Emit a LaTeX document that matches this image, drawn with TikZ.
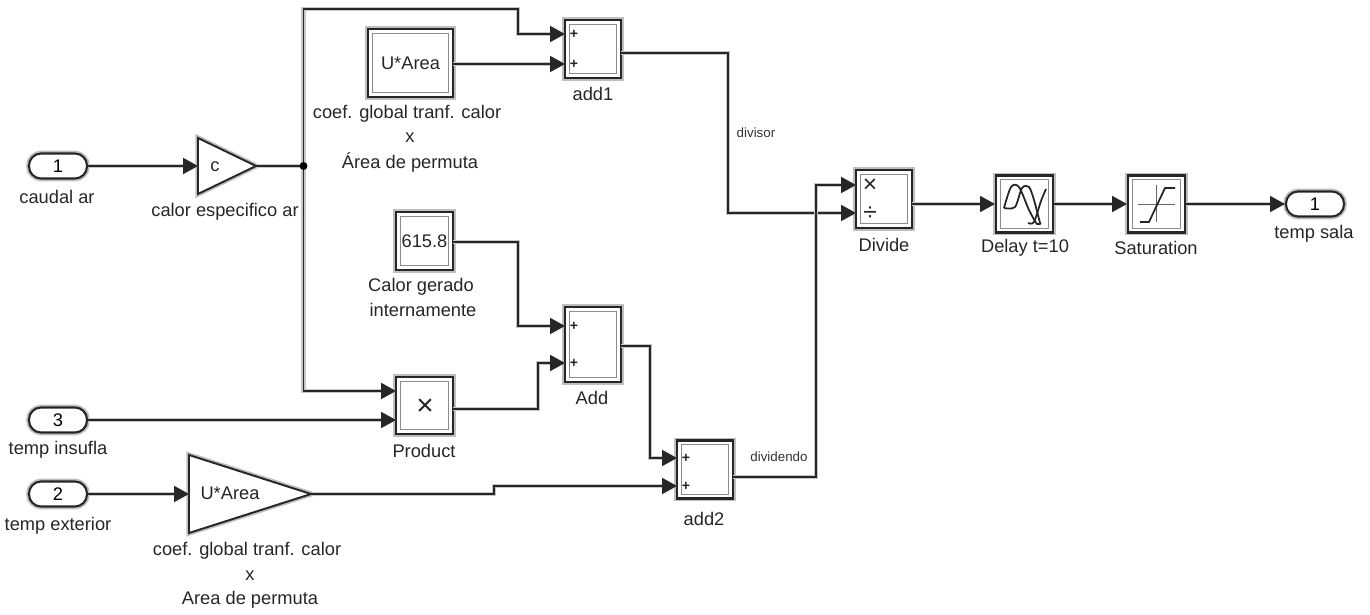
\documentclass[tikz,border=0pt]{standalone}
\usepackage{fontspec}
\setmainfont{Liberation Sans}
\usetikzlibrary{arrows.meta}

\begin{document}
\begin{tikzpicture}[x=0.02cm,y=-0.02cm,
		wire/.style={line width=1pt, black!85, preaction={draw=black!22, line width=2.4pt}},
		feed/.style={wire, -{Triangle[length=8.5pt,width=9pt]}},
		plainbox/.style={draw=black!85, line width=1.2pt, fill=white, inner sep=0pt, preaction={draw=black!25, line width=3.2pt}},
		blockbox/.style={plainbox, path picture={\draw[black!45, line width=0.5pt] ([shift={(2.4pt,-2.4pt)}]path picture bounding box.north west) rectangle ([shift={(-2.4pt,2.4pt)}]path picture bounding box.south east);}},
		gainbox/.style={draw=black!85, line width=1.1pt, fill=white, line join=miter, preaction={draw=black!25, line width=3pt}},
		portbox/.style={plainbox, minimum width=1.16cm, minimum height=0.5cm, rounded corners=0.24cm, font=\fontsize{10.4}{12}\selectfont},
		caption/.style={font=\fontsize{10.4}{12}\selectfont, text=black!85, inner sep=0pt},
		sign/.style={font=\fontsize{8}{8}\selectfont\bfseries, text=black!85, inner sep=0pt},
		wirelabel/.style={font=\fontsize{7.6}{9}\selectfont, text=black!80, inner sep=0pt},
		iconline/.style={black!85, line width=1pt}]

		\useasboundingbox (0,0) rectangle (1370,615);

		% Gain triangles
		\coordinate (gainctop) at (198,138);
		\coordinate (gaincbot) at (198,194);
		\coordinate (gainctip) at (256,166);
		\coordinate (gainatop) at (189,455);
		\coordinate (gainabot) at (189,533);
		\coordinate (gainatip) at (311,494);
		\draw[gainbox] (gainctop) -- (gainctip) -- (gaincbot) -- cycle;
		\draw[gainbox] (gainatop) -- (gainatip) -- (gainabot) -- cycle;
		\node[caption] (gainctext) at (215,167) {c};
		\node[caption] (gainatext) at (230,493) {U*Area};

		% Blocks
		\node[portbox] (incaudal) at (58,166) {1};
		\node[portbox] (ininsufla) at (58,420) {3};
		\node[portbox] (inexterior) at (58,494) {2};
		\node[portbox] (outsala) at (1315,204) {1};
		\node[blockbox, minimum width=1.70cm, minimum height=1.36cm, caption] (coef) at (410.5,63) {U*Area};
		\node[blockbox, minimum width=1.14cm, minimum height=1.16cm, caption] (calor) at (424.5,241) {615.8};
		\node[blockbox, minimum width=1.14cm, minimum height=1.14cm] (product) at (424.5,405.5) {};
		\node[blockbox, minimum width=1.12cm, minimum height=1.16cm] (add1) at (593,49) {};
		\node[blockbox, minimum width=1.12cm, minimum height=1.50cm] (add) at (593,344.5) {};
		\node[blockbox, minimum width=1.12cm, minimum height=1.16cm] (add2) at (705,469.5) {};
		\node[blockbox, minimum width=1.12cm, minimum height=1.16cm] (divide) at (884,199) {};
		\node[blockbox, minimum width=1.14cm, minimum height=1.14cm] (delay) at (1024.5,204) {};
		\node[blockbox, minimum width=1.14cm, minimum height=1.14cm] (satur) at (1156.5,204) {};

		% Signs inside the blocks
		\node[sign] (add1a) at (574,34) {+};
		\node[sign] (add1b) at (574,64) {+};
		\node[sign] (adda) at (574,326) {+};
		\node[sign] (addb) at (574,363) {+};
		\node[sign] (add2a) at (686,458) {+};
		\node[sign] (add2b) at (686,486) {+};
		\node[sign, font=\fontsize{14}{14}\selectfont] (divmul) at (870,186) {×};
		\node[sign, font=\fontsize{14}{14}\selectfont] (divdiv) at (870,214) {÷};
		\node[sign, font=\fontsize{17}{17}\selectfont] (prodmul) at (425,407) {×};

		% Delay icon
		\draw[iconline] plot[smooth] coordinates {(1004,208) (1011,187) (1019,187) (1029,210) (1037,224) (1041,223)};
		\draw[iconline] plot[smooth] coordinates {(1004,208) (1015,207) (1022,188) (1029,187) (1034,200) (1040,223)};
		\draw[iconline] plot[smooth] coordinates {(1028,223) (1034,222) (1041,201) (1046,189)};

		% Saturation icon
		\draw[black!60, line width=0.5pt] (1138,204) -- (1175,204);
		\draw[black!60, line width=0.5pt] (1156,185) -- (1156,222);
		\draw[iconline] (1140,222) -- (1149,222) -- (1165,188) -- (1175,188);

		% Port and branch points
		\coordinate (add1in1) at (565,34);
		\coordinate (add1in2) at (565,64);
		\coordinate (addin1) at (565,326);
		\coordinate (addin2) at (565,363);
		\coordinate (add2in1) at (677,458);
		\coordinate (add2in2) at (677,486);
		\coordinate (prodin1) at (396,391);
		\coordinate (prodin2) at (396,420);
		\coordinate (divin1) at (856,185);
		\coordinate (divin2) at (856,213);
		\coordinate (gaincin) at (198,166);
		\coordinate (gainain) at (189,494);
		\coordinate (add1out) at (621,53);
		\coordinate (addout) at (621,346);
		\coordinate (add2out) at (733,477);
		\coordinate (prodout) at (453,409);
		\coordinate (coefout) at (453,64);
		\coordinate (calorout) at (453,242);
		\coordinate (divout) at (912,204);

		% Connectors
		\draw[feed] (incaudal.east) -- (gaincin);
		\draw[wire] (gainctip) -- (303.5,166);
		\draw[feed] (303.5,166) |- (518,9) -- (518,34) -- (add1in1);
		\draw[feed] (303.5,166) |- (prodin1);
		\draw[feed] (coefout) -- (add1in2);
		\draw[feed] (calorout) -- (518,242) -- (518,326) -- (addin1);
		\draw[feed] (ininsufla.east) -- (prodin2);
		\draw[feed] (prodout) -- (538,409) -- (538,363) -- (addin2);
		\draw[feed] (addout) -- (650,346) -- (650,458) -- (add2in1);
		\draw[feed] (inexterior.east) -- (gainain);
		\draw[feed] (gainatip) -- (494,494) -- (494,486) -- (add2in2);
		\draw[feed] (add1out) -- (728,53) -- (728,213) -- (divin2);
		\draw[feed] (add2out) -- (816,477) -- (816,185) -- (divin1);
		\draw[feed] (divout) -- (delay.west);
		\draw[feed] (delay.east) -- (satur.west);
		\draw[feed] (satur.east) -- (outsala.west);

		% Junction
		\node[fill=black, circle, inner sep=1.6pt] (junction) at (303.5,166) {};

		% Labels on the wires
		\node[wirelabel] (divisor) at (756,133) {divisor};
		\node[wirelabel] (dividendo) at (779,457) {dividendo};

		% Block captions
		\node[caption] (lblcaudal) at (57,197) {caudal ar};
		\node[caption] (lblinsufla) at (58,450) {temp insufla};
		\node[caption] (lblexterior) at (58,526) {temp exterior};
		\node[caption] (lblgainc) at (225,212) {calor especifico ar};
		\node[caption] (lblcoefa) at (407,114) {coef. global tranf. calor};
		\node[caption] (lblcoefb) at (410,138) {x};
		\node[caption] (lblcoefc) at (410,162) {Área de permuta};
		\node[caption] (lblcalora) at (421,287) {Calor gerado};
		\node[caption] (lblcalorb) at (423,310) {internamente};
		\node[caption] (lblproduct) at (424,451) {Product};
		\node[caption] (lbladd1) at (593,94) {add1};
		\node[caption] (lbladd) at (592,398) {Add};
		\node[caption] (lbladd2) at (704,519) {add2};
		\node[caption] (lblgaina) at (247,551) {coef. global tranf. calor};
		\node[caption] (lblgainb) at (250,576) {x};
		\node[caption] (lblgainc2) at (250,600) {Area de permuta};
		\node[caption] (lbldivide) at (884,245) {Divide};
		\node[caption] (lbldelay) at (1025,248) {Delay t=10};
		\node[caption] (lblsatur) at (1156,248) {Saturation};
		\node[caption] (lblsala) at (1314,234) {temp sala};

	\end{tikzpicture}
\end{document}
